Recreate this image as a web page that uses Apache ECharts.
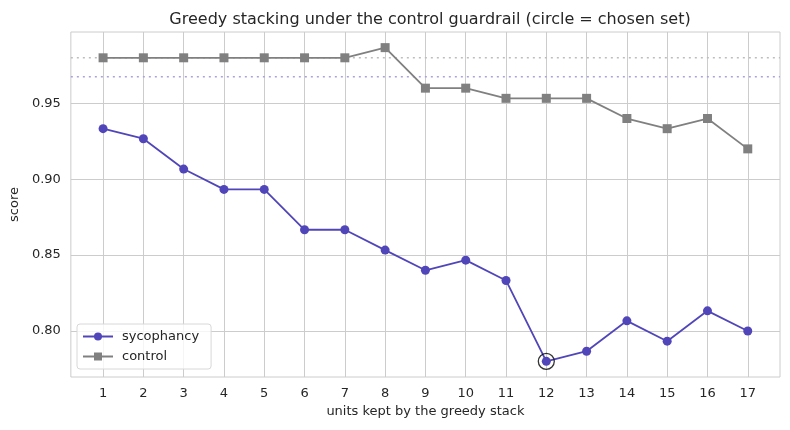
<!DOCTYPE html>
<html>
<head>
<meta charset="utf-8">
<script src="https://cdn.jsdelivr.net/npm/echarts@6/dist/echarts.min.js"></script>
<style>html,body{margin:0;padding:0;background:#fff;}#c{width:790px;height:430px;}</style>
</head>
<body>
<div id="c"></div>
<script>
const units = [1,2,3,4,5,6,7,8,9,10,11,12,13,14,15,16,17];
const sycophancy = [0.9333,0.9267,0.9067,0.8933,0.8933,0.8667,0.8667,0.8533,0.84,0.8467,0.8333,0.78,0.7867,0.8067,0.7933,0.8133,0.80];
const control = [0.98,0.98,0.98,0.98,0.98,0.98,0.98,0.9867,0.96,0.96,0.9533,0.9533,0.9533,0.94,0.9333,0.94,0.92];
const controlBaseline = 0.98;
const guardrail = 0.9675;
const chosenUnit = 12;
const chosenScore = 0.78;
const yTicks = [0.80,0.85,0.90,0.95];
const yTickLabels = ['0.80','0.85','0.90','0.95'];
const xMin = 0.2, xMax = 17.8, yMin = 0.7697, yMax = 0.997;

const font = 'DejaVu Sans';
const chart = echarts.init(document.getElementById('c'), null, {renderer:'canvas'});
chart.setOption({
  animation:false,
  backgroundColor:'#fff',
  title:{text:'Greedy stacking under the control guardrail (circle = chosen set)', left:425, textAlign:'center', top:7,
    textStyle:{fontFamily:font, fontSize:16, fontWeight:'normal', color:'#262626'}},
  grid:{left:70, right:10, top:32, bottom:53, show:true, borderColor:'#cccccc', borderWidth:1},
  legend:{
    orient:'vertical', left:77, top:324, data:['sycophancy','control'],
    backgroundColor:'rgba(255,255,255,0.8)', borderColor:'#d8d8d8', borderWidth:1, borderRadius:3,
    padding:[6,12,6,5], itemGap:7, itemWidth:30, itemHeight:10,
    textStyle:{fontFamily:font, fontSize:13, color:'#262626', padding:[0,0,0,4]}
  },
  xAxis:{
    type:'value', min:xMin, max:xMax,
    name:'units kept by the greedy stack', nameLocation:'middle', nameGap:28,
    nameTextStyle:{fontFamily:font, fontSize:13, color:'#262626'},
    axisLine:{show:false}, axisTick:{show:false, customValues:units},
    axisLabel:{customValues:units, fontFamily:font, fontSize:13, color:'#262626', margin:10},
    splitLine:{show:true, lineStyle:{color:'#cccccc', width:1}}
  },
  yAxis:{
    type:'value', min:yMin, max:yMax,
    name:'score', nameLocation:'middle', nameGap:46,
    nameTextStyle:{fontFamily:font, fontSize:13, color:'#262626'},
    axisLine:{show:false}, axisTick:{show:false, customValues:yTicks},
    axisLabel:{customValues:yTicks, formatter:v=>yTickLabels[yTicks.findIndex(t=>Math.abs(t-v)<1e-6)] ?? v.toFixed(2),
      fontFamily:font, fontSize:13, color:'#262626', margin:10},
    splitLine:{show:true, lineStyle:{color:'#cccccc', width:1}}
  },
  series:[
    {name:'baseline', type:'line', data:[[xMin,controlBaseline],[xMax,controlBaseline]], symbol:'none', silent:true,
      lineStyle:{color:'#bdbdbd', type:[2,4], width:1.5}, z:1},
    {name:'guardrail', type:'line', data:[[xMin,guardrail],[xMax,guardrail]], symbol:'none', silent:true,
      lineStyle:{color:'#a9a3dc', type:[2,4], width:1.5}, z:1},
    {name:'sycophancy', type:'line', data:units.map((u,i)=>[u,sycophancy[i]]),
      symbol:'circle', symbolSize:9, lineStyle:{color:'#5046b9', width:1.8},
      itemStyle:{color:'#5046b9'}, z:3},
    {name:'control', type:'line', data:units.map((u,i)=>[u,control[i]]),
      symbol:'rect', symbolSize:9, lineStyle:{color:'#808080', width:1.8},
      itemStyle:{color:'#808080'}, z:3},
    {name:'chosen', type:'scatter', data:[[chosenUnit, chosenScore]], symbol:'circle', symbolSize:16,
      itemStyle:{color:'rgba(0,0,0,0)', borderColor:'#000', borderWidth:1.3}, z:5}
  ]
});
</script>
</body>
</html>
